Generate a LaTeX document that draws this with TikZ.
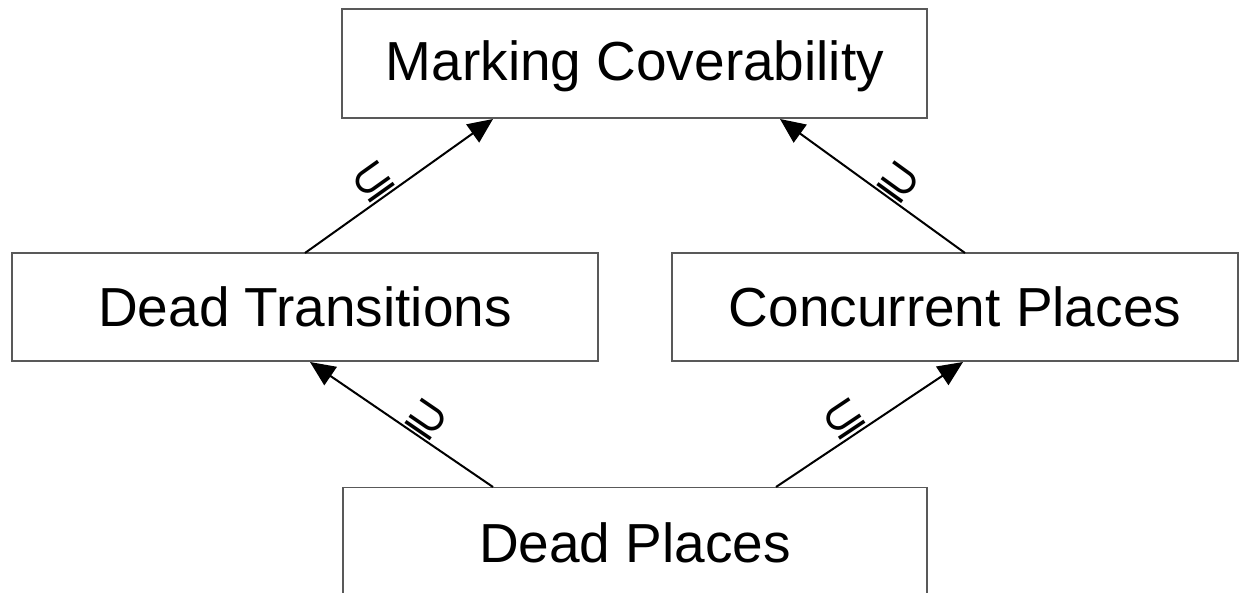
\documentclass[tikz,border=0pt]{standalone}
\usepackage{fontspec}
\setmainfont{Liberation Sans}
\newfontfamily\symfont{DejaVu Sans}
\usetikzlibrary{arrows.meta}
\begin{document}
\begin{tikzpicture}[x=1pt,y=-1pt,
  box/.style={draw=black!65, line width=1.2pt, fill=white, inner sep=0pt, font=\fontsize{55}{60}\selectfont},
  rel/.style={line width=2pt, -{Triangle[length=25pt,width=22pt]}},
  lab/.style={sloped, above, inner sep=2pt, font=\symfont\fontsize{50}{52}\selectfont}]
\useasboundingbox (0,0) rectangle (1240,592);
\node[box, minimum width=585pt, minimum height=109pt] (mc) at (634.5,63.5) {};
\node[font=\fontsize{55}{60}\selectfont] (mct) at (635,66) {Marking Coverability};
\node[box, minimum width=586pt, minimum height=108pt] (dt) at (305,307) {Dead Transitions};
\node[box, minimum width=566pt, minimum height=108pt] (cp) at (955,307) {Concurrent Places};
\node[box, minimum width=584pt, minimum height=108pt, anchor=north] (dp) at (635,487) {};
\node[font=\fontsize{55}{60}\selectfont] (dpt) at (635,543) {Dead Places};
\coordinate (a1) at (305,253);
\coordinate (b1) at (493,119);
\coordinate (a2) at (965,253);
\coordinate (b2) at (780,119);
\coordinate (a3) at (493,487);
\coordinate (b3) at (310,362);
\coordinate (a4) at (776,487);
\coordinate (b4) at (963,362);
\draw[rel] (a1) -- node[lab, pos=0.42] {⊆} (b1);
\draw[rel] (a2) -- node[lab, pos=0.42] {⊇} (b2);
\draw[rel] (a3) -- node[lab, pos=0.42] {⊇} (b3);
\draw[rel] (a4) -- node[lab, pos=0.42] {⊆} (b4);
\end{tikzpicture}
\end{document}
